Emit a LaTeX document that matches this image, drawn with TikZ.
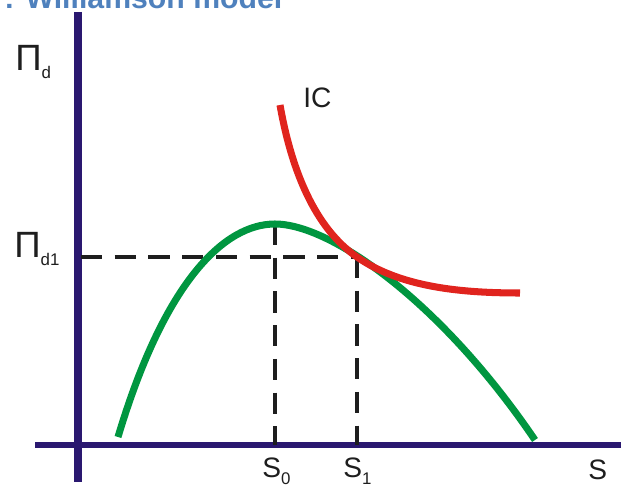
\documentclass[tikz,border=0pt]{standalone}
\usepackage{fontspec}
\setmainfont{Liberation Sans}
\usetikzlibrary{positioning}
\definecolor{navy}{RGB}{42,24,112}
\definecolor{leaf}{RGB}{0,150,64}
\definecolor{brick}{RGB}{224,36,30}
\definecolor{ink}{RGB}{30,30,30}
\definecolor{sky}{RGB}{79,129,189}
\newcommand{\lowsub}[1]{\raisebox{-5pt}{\fontsize{12}{14}\selectfont #1}}
\tikzset{
  axisline/.style={draw=navy,line width=5pt},
  curve/.style={draw=#1,line width=5pt},
  curve/.default=leaf,
  guide/.style={draw=ink,line width=3pt,dash pattern=on 15pt off 9pt},
  lbl/.style={font=\fontsize{20}{24}\selectfont,text=ink,inner sep=0pt,anchor=base west},
  heading/.style={font=\fontsize{21.5}{24}\selectfont\bfseries,text=sky,inner sep=0pt,anchor=base west},
}

\begin{document}
\begin{tikzpicture}[x=0.025cm,y=-0.025cm]
  \useasboundingbox (0,0) rectangle (621,486);
  \clip (0,0) rectangle (621,486);
  % title, cut at the top
  \node[heading] (ttl) at (4,9) {: Williamson model};
  % axes
  \coordinate (ytop) at (78,12);
  \coordinate (ybot) at (78,482);
  \coordinate (xleft) at (35,445);
  \coordinate (xright) at (621,445);
  \draw[axisline] (ytop) -- (ybot);
  \draw[axisline,line width=4.3pt] (xleft) -- (xright);
  % points
  \coordinate (peak) at (275,224);
  \coordinate (tan) at (357,257);
  \coordinate (s0) at (275,445);
  \coordinate (s1) at (357,445);
  \coordinate (pi1) at (81,257);
  % guides
  \draw[guide] (pi1) -- (tan);
  \draw[guide] (peak) -- (s0);
  \draw[guide] (tan) -- (s1);
  % curves
  \draw[curve=leaf] (118,437) .. controls (165,280) and (225,224) .. (peak)
    .. controls (330,224) and (440,300) .. (535,440);
  \draw[curve=brick] (280,105) .. controls (295,190) and (325,235) .. (tan)
    .. controls (400,287) and (460,293) .. (520,293);
  % labels
  \node[lbl,font=\fontsize{26}{30}\selectfont] (pid) at (15,71) {Π\lowsub{d}};
  \node[lbl,font=\fontsize{26}{30}\selectfont] (pid1) at (14,258) {Π\lowsub{d1}};
  \node[lbl] (ic) at (303,108) {IC};
  \node[lbl] (lbls0) at (262,477) {S\lowsub{0}};
  \node[lbl] (lbls1) at (343,477) {S\lowsub{1}};
  \node[lbl] (lbls) at (588,480) {S};
\end{tikzpicture}
\end{document}
